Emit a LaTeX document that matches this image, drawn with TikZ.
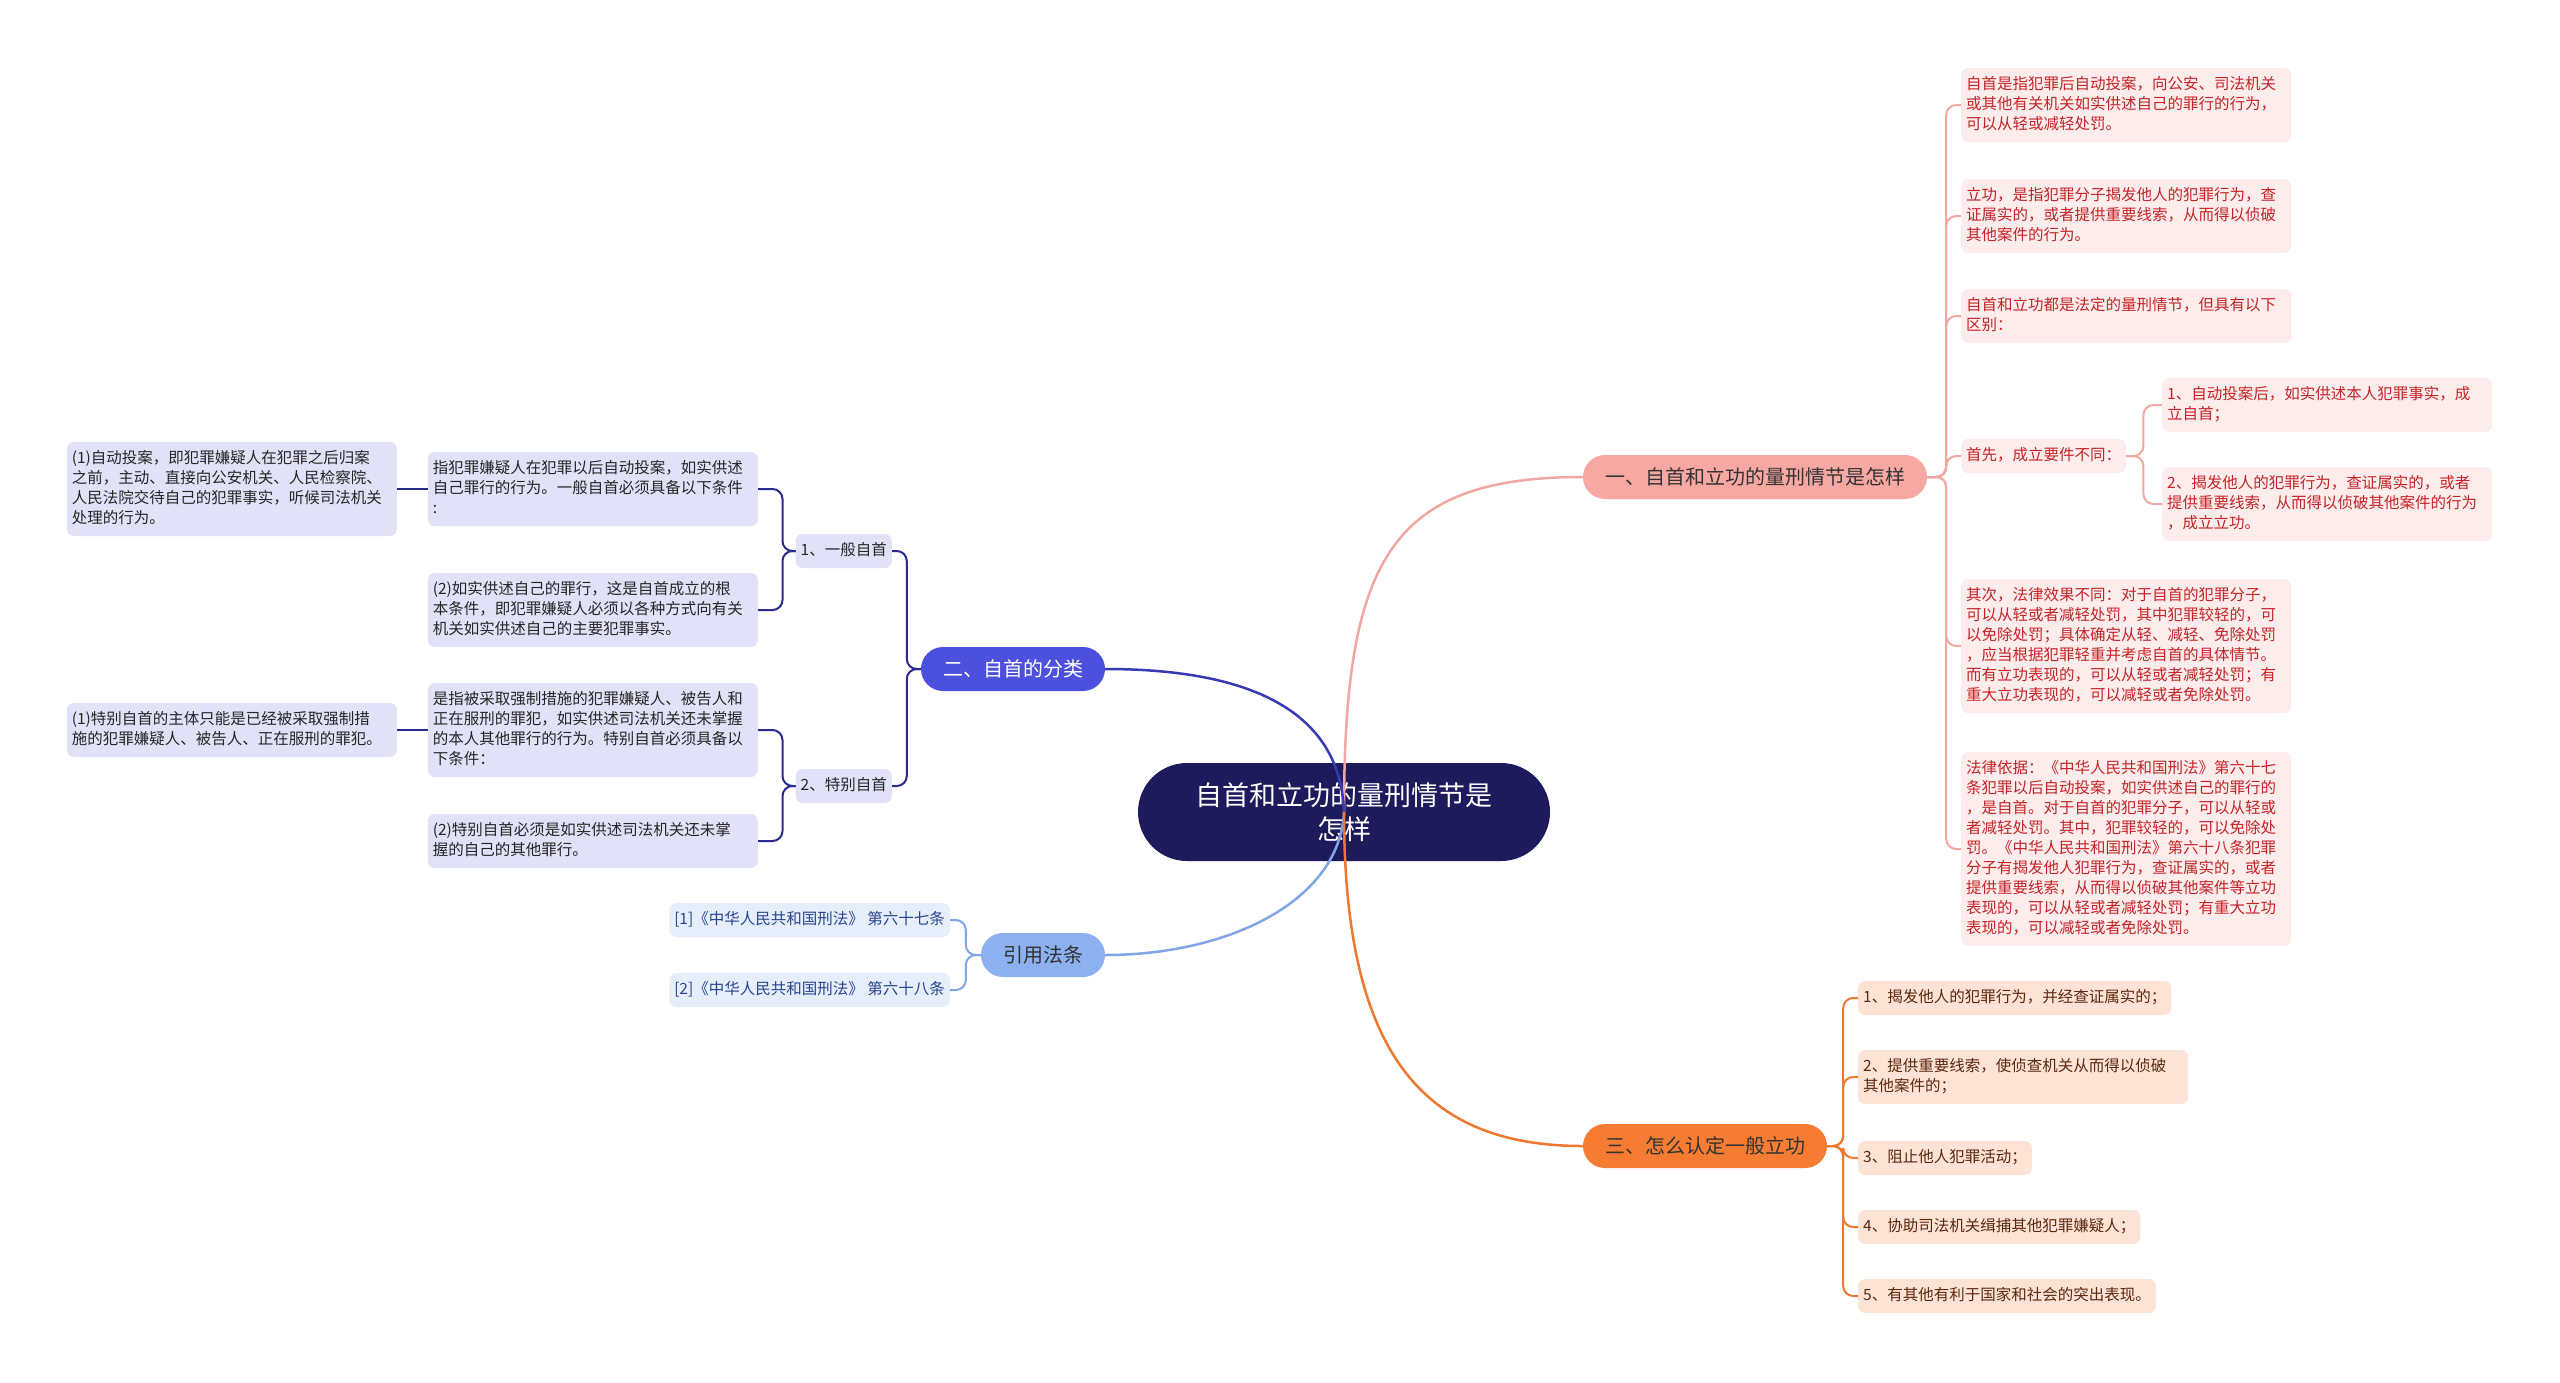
\documentclass[tikz,border=0pt]{standalone}
\usepackage{fontspec}
\setmainfont{Noto Sans CJK SC}
\definecolor{rootfill}{RGB}{29,27,92}
\definecolor{onefill}{RGB}{247,168,163}
\definecolor{oneleaf}{RGB}{253,236,236}
\definecolor{onetext}{RGB}{196,36,40}
\definecolor{oneline}{RGB}{240,168,163}
\definecolor{twofill}{RGB}{76,80,220}
\definecolor{twoleaf}{RGB}{225,226,248}
\definecolor{twoline}{RGB}{55,58,180}
\definecolor{twosub}{RGB}{40,44,140}
\definecolor{lawfill}{RGB}{140,176,240}
\definecolor{lawleaf}{RGB}{230,238,252}
\definecolor{lawtext}{RGB}{40,70,140}
\definecolor{lawline}{RGB}{130,165,230}
\definecolor{threefill}{RGB}{245,124,50}
\definecolor{threeleaf}{RGB}{253,227,213}
\definecolor{threetext}{RGB}{90,40,15}
\definecolor{threeline}{RGB}{238,120,48}
\begin{document}
\begin{tikzpicture}[x=1pt,y=-1pt]
\tikzstyle{leaf}=[shape=rectangle, rounded corners=7pt, inner xsep=5pt, inner ysep=7pt, align=left,
  font=\fontsize{15.5}{20}\selectfont, execute at begin node={\strut}, execute at end node={\strut}]
\tikzstyle{wide}=[text width=320pt]
\tikzstyle{branch}=[shape=rectangle, rounded corners=22pt, minimum height=44pt, inner xsep=22pt,
  font=\fontsize{20}{24}\selectfont]
\tikzstyle{trunk}=[line width=2.5pt]
\tikzstyle{twig}=[line width=2pt, rounded corners=10pt]
\fill[white] (0,0) rectangle (2560,1382);
\useasboundingbox (0,0) rectangle (2560,1382);
% root and main branches
\node[fill=rootfill, text=white, rounded corners=49pt, minimum width=412pt, minimum height=98pt,
  align=center, font=\fontsize{27}{34}\selectfont] (root) at (1344,812) {自首和立功的量刑情节是\\怎样};
\node[branch, fill=onefill, text=black!80] (one) at (1755,477) {一、自首和立功的量刑情节是怎样};
\node[branch, fill=twofill, text=white] (two) at (1013,669) {二、自首的分类};
\node[branch, fill=lawfill, text=black!80] (law) at (1043,955) {引用法条};
\node[branch, fill=threefill, text=black!80] (three) at (1705,1146) {三、怎么认定一般立功};
% branch one
\node[leaf, wide, fill=oneleaf, text=onetext, anchor=west] (selfdef) at (1961,105) {自首是指犯罪后自动投案，向公安、司法机关\\或其他有关机关如实供述自己的罪行的行为，\\可以从轻或减轻处罚。};
\node[leaf, wide, fill=oneleaf, text=onetext, anchor=west] (meritdef) at (1961,216) {立功，是指犯罪分子揭发他人的犯罪行为，查\\证属实的，或者提供重要线索，从而得以侦破\\其他案件的行为。};
\node[leaf, wide, fill=oneleaf, text=onetext, anchor=west] (diff) at (1961,316) {自首和立功都是法定的量刑情节，但具有以下\\区别：};
\node[leaf, fill=oneleaf, text=onetext, anchor=west] (first) at (1961,456) {首先，成立要件不同：};
\node[leaf, wide, fill=oneleaf, text=onetext, anchor=west] (firsta) at (2162,405) {1、自动投案后，如实供述本人犯罪事实，成\\立自首；};
\node[leaf, wide, fill=oneleaf, text=onetext, anchor=west] (firstb) at (2162,504) {2、揭发他人的犯罪行为，查证属实的，或者\\提供重要线索，从而得以侦破其他案件的行为\\，成立立功。};
\node[leaf, wide, fill=oneleaf, text=onetext, anchor=west] (second) at (1961,646) {其次，法律效果不同：对于自首的犯罪分子，\\可以从轻或者减轻处罚，其中犯罪较轻的，可\\以免除处罚；具体确定从轻、减轻、免除处罚\\，应当根据犯罪轻重并考虑自首的具体情节。\\而有立功表现的，可以从轻或者减轻处罚；有\\重大立功表现的，可以减轻或者免除处罚。};
\node[leaf, wide, fill=oneleaf, text=onetext, anchor=west] (basis) at (1961,849) {法律依据：《中华人民共和国刑法》第六十七\\条犯罪以后自动投案，如实供述自己的罪行的\\，是自首。对于自首的犯罪分子，可以从轻或\\者减轻处罚。其中，犯罪较轻的，可以免除处\\罚。《中华人民共和国刑法》第六十八条犯罪\\分子有揭发他人犯罪行为，查证属实的，或者\\提供重要线索，从而得以侦破其他案件等立功\\表现的，可以从轻或者减轻处罚；有重大立功\\表现的，可以减轻或者免除处罚。};
% branch two
\node[leaf, fill=twoleaf, text=black!85, anchor=east] (general) at (892,551) {1、一般自首};
\node[leaf, fill=twoleaf, text=black!85, anchor=east] (special) at (892,786) {2、特别自首};
\node[leaf, wide, fill=twoleaf, text=black!85, anchor=east] (gena) at (758,489) {指犯罪嫌疑人在犯罪以后自动投案，如实供述\\自己罪行的行为。一般自首必须具备以下条件\\:};
\node[leaf, wide, fill=twoleaf, text=black!85, anchor=east] (genb) at (758,610) {(2)如实供述自己的罪行，这是自首成立的根\\本条件，即犯罪嫌疑人必须以各种方式向有关\\机关如实供述自己的主要犯罪事实。};
\node[leaf, wide, fill=twoleaf, text=black!85, anchor=east] (genc) at (397,489) {(1)自动投案，即犯罪嫌疑人在犯罪之后归案\\之前，主动、直接向公安机关、人民检察院、\\人民法院交待自己的犯罪事实，听候司法机关\\处理的行为。};
\node[leaf, wide, fill=twoleaf, text=black!85, anchor=east] (speca) at (758,730) {是指被采取强制措施的犯罪嫌疑人、被告人和\\正在服刑的罪犯，如实供述司法机关还未掌握\\的本人其他罪行的行为。特别自首必须具备以\\下条件：};
\node[leaf, wide, fill=twoleaf, text=black!85, anchor=east] (specb) at (758,841) {(2)特别自首必须是如实供述司法机关还未掌\\握的自己的其他罪行。};
\node[leaf, wide, fill=twoleaf, text=black!85, anchor=east] (specc) at (397,730) {(1)特别自首的主体只能是已经被采取强制措\\施的犯罪嫌疑人、被告人、正在服刑的罪犯。};
% cited law
\node[leaf, fill=lawleaf, text=lawtext, anchor=east] (art67) at (950,920) {[1]《中华人民共和国刑法》 第六十七条};
\node[leaf, fill=lawleaf, text=lawtext, anchor=east] (art68) at (950,990) {[2]《中华人民共和国刑法》 第六十八条};
% branch three
\node[leaf, fill=threeleaf, text=threetext, anchor=west] (way1) at (1858,998) {1、揭发他人的犯罪行为，并经查证属实的；};
\node[leaf, wide, fill=threeleaf, text=threetext, anchor=west] (way2) at (1858,1077) {2、提供重要线索，使侦查机关从而得以侦破\\其他案件的；};
\node[leaf, fill=threeleaf, text=threetext, anchor=west] (way3) at (1858,1158) {3、阻止他人犯罪活动；};
\node[leaf, fill=threeleaf, text=threetext, anchor=west] (way4) at (1858,1227) {4、协助司法机关缉捕其他犯罪嫌疑人；};
\node[leaf, fill=threeleaf, text=threetext, anchor=west] (way5) at (1858,1296) {5、有其他有利于国家和社会的突出表现。};
% trunk curves
\draw[trunk, oneline] (root.center) .. controls (1344,560) and (1390,477) .. (one.west);
\draw[trunk, twoline] (root.center) .. controls (1340,700) and (1230,669) .. (two.east);
\draw[trunk, lawline] (root.center) .. controls (1340,900) and (1230,955) .. (law.east);
\draw[trunk, threeline] (root.center) .. controls (1344,1050) and (1420,1146) .. (three.west);
% twigs
\foreach \leafname in {selfdef, meritdef, diff, first, second, basis}
  \draw[twig, oneline] (one.east) -- ++(19,0) |- (\leafname.west);
\foreach \leafname in {firsta, firstb}
  \draw[twig, oneline] (first.east) -- ++(17,0) |- (\leafname.west);
\foreach \leafname in {general, special}
  \draw[twig, twosub] (two.west) -- ++(-14,0) |- (\leafname.east);
\foreach \leafname in {gena, genb}
  \draw[twig, twosub] (general.west) -- ++(-13,0) |- (\leafname.east);
\foreach \leafname in {speca, specb}
  \draw[twig, twosub] (special.west) -- ++(-13,0) |- (\leafname.east);
\draw[twig, twosub] (gena.west) -- (genc.east);
\draw[twig, twosub] (speca.west) -- (specc.east);
\foreach \leafname in {art67, art68}
  \draw[twig, lawline] (law.west) -- ++(-15,0) |- (\leafname.east);
\foreach \leafname in {way1, way2, way3, way4, way5}
  \draw[twig, threeline] (three.east) -- ++(16,0) |- (\leafname.west);
\end{tikzpicture}
\end{document}
